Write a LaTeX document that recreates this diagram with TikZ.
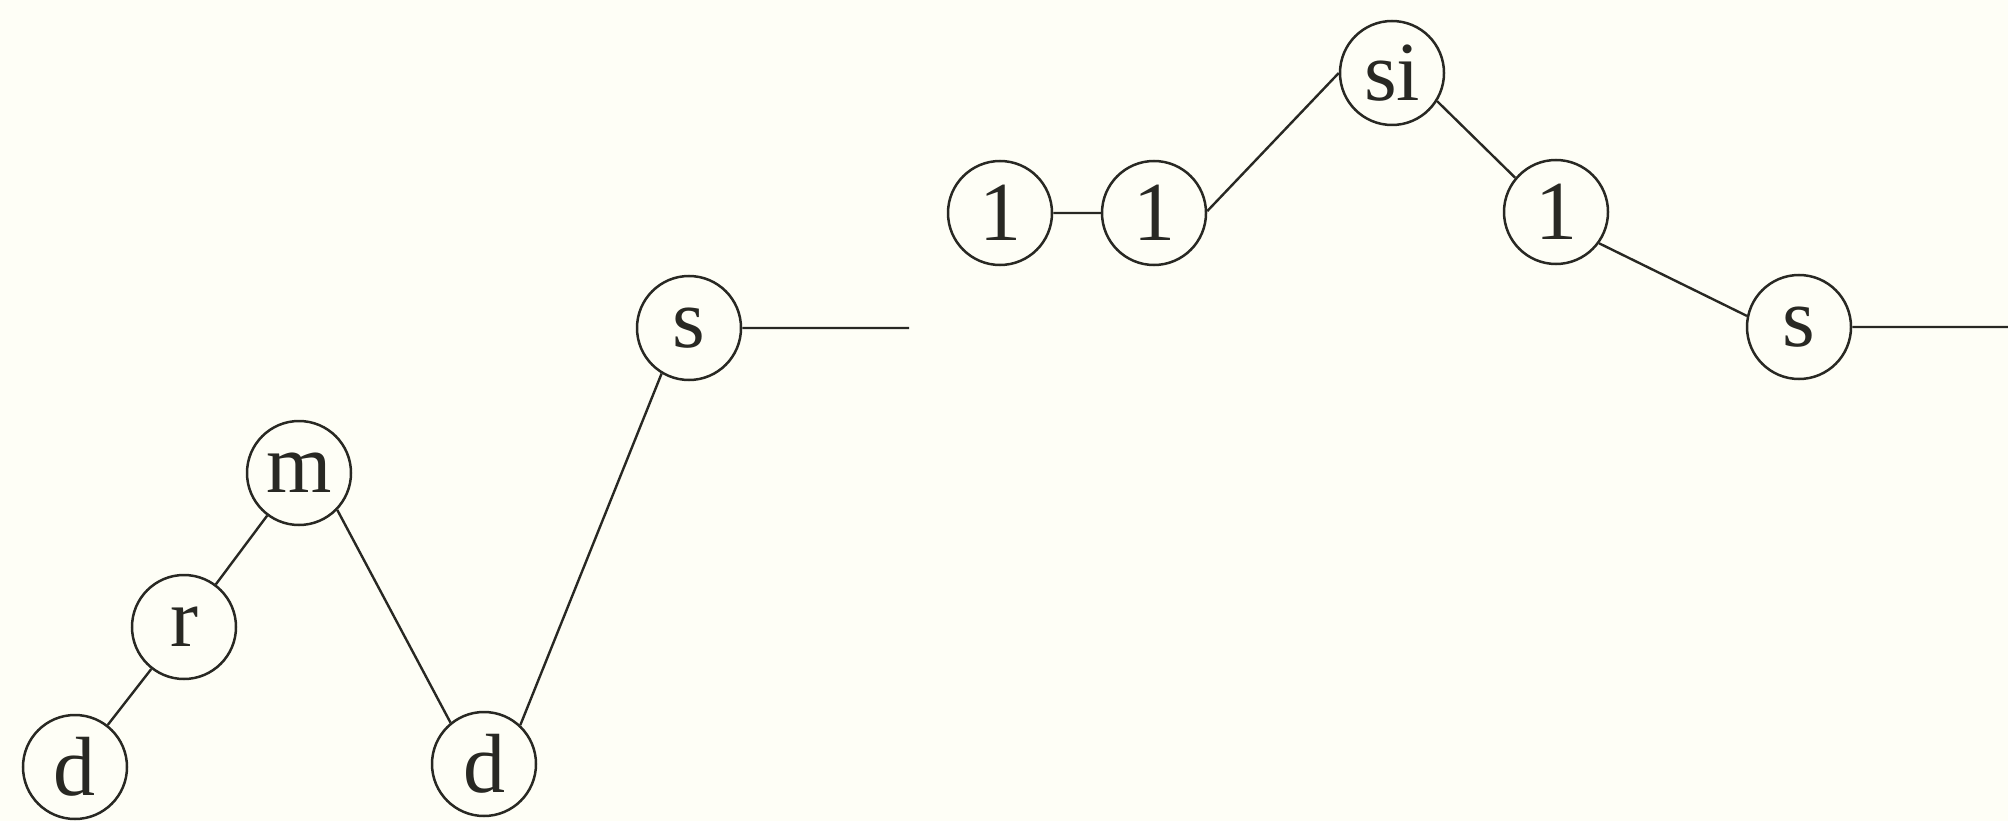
\documentclass[tikz,border=0pt]{standalone}
\usepackage{fontspec}
\setmainfont{Liberation Serif}
\definecolor{paper}{RGB}{254,254,246}
\definecolor{ink}{RGB}{40,40,35}
\begin{document}
\begin{tikzpicture}[x=1pt,y=1pt,
  note/.style={circle,draw=ink,line width=1.25pt,minimum size=52pt,inner sep=0pt,
    font=\fontsize{42}{48}\selectfont,text=ink},
  link/.style={draw=ink,line width=1.2pt}]
\fill[paper] (0,0) rectangle (1004,410.5);
\useasboundingbox (0,0) rectangle (1004,410.5);
\node[note] (d1) at (37.5,27) {d};
\node[note] (r) at (92,97) {r};
\node[note] (m) at (149.5,174) {m};
\node[note] (d2) at (242,28.5) {d};
\node[note] (s1) at (344.5,246.5) {s};
\coordinate (e1) at (454.5,246.5);
\node[note] (l1) at (500,304) {1};
\node[note] (l2) at (577,304) {1};
\node[note] (si) at (696,374) {si};
\node[note] (l3) at (778,304.5) {1};
\node[note] (s2) at (899.5,247) {s};
\coordinate (e2) at (1004,247);
\path[link] (d1) -- (r) (r) -- (m) (m.-44) -- (d2.129) (d2.47) -- (s1.239) (s1.east) -- (e1);
\path[link] (l1) -- (l2) (l2.2) -- (si.180) (si.-32) -- (l3.140) (l3.-36) -- (s2.168) (s2.east) -- (e2);
\end{tikzpicture}
\end{document}
